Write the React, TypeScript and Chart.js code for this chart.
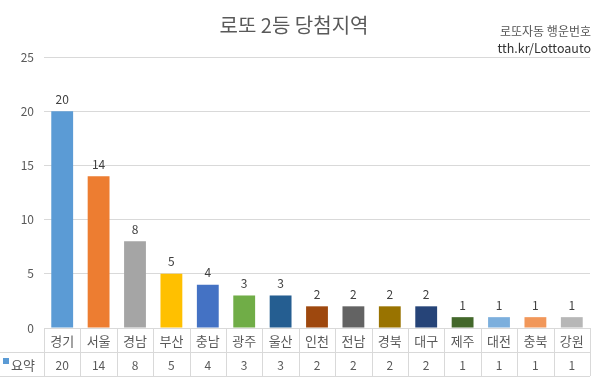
import React, { useEffect, useRef } from "react";
import { Chart, registerables } from "chart.js";

Chart.register(...registerables);

const categories = ["경기", "서울", "경남", "부산", "충남", "광주", "울산", "인천", "전남", "경북", "대구", "제주", "대전", "충북", "강원"];
const values = [20, 14, 8, 5, 4, 3, 3, 2, 2, 2, 2, 1, 1, 1, 1];
const barColors = ["#5B9BD5", "#ED7D31", "#A5A5A5", "#FFC000", "#4472C4", "#70AD47", "#255E91", "#9E480E", "#636363", "#997300", "#264478", "#43682B", "#7CAFDD", "#F1975A", "#B7B7B7"];
const seriesName = "요약";
const legendColor = "#5B9BD5";
const titleText = "로또 2등 당첨지역";
const noteLines = ["로또자동 행운번호", "tth.kr/Lottoauto"];
const yMin = 0;
const yMax = 25;
const yStep = 5;

const FONT = '"Noto Sans CJK KR", "Noto Sans", sans-serif';

const extrasPlugin = {
  id: "extras",
  afterDraw(chart: any) {
    const { ctx, chartArea, scales } = chart;
    const xs = scales.x;
    const ys = scales.y;
    const n = categories.length;
    const top = chartArea.bottom;
    const rowH = 24;
    const right = chartArea.right;
    ctx.save();

    // title
    ctx.fillStyle = "#595959";
    ctx.font = `20px ${FONT}`;
    ctx.textAlign = "center";
    ctx.textBaseline = "middle";
    ctx.fillText(titleText, 294, 25);

    // note
    ctx.textAlign = "right";
    ctx.fillStyle = "#555555";
    ctx.font = `12px ${FONT}`;
    ctx.fillText(noteLines[0], 591, 31);
    ctx.fillStyle = "#333333";
    ctx.font = `12.5px ${FONT}`;
    ctx.fillText(noteLines[1], 591, 48);

    // data labels
    ctx.fillStyle = "#404040";
    ctx.font = `12px ${FONT}`;
    ctx.textAlign = "center";
    ctx.textBaseline = "middle";
    values.forEach((v, i) => {
      ctx.fillText(String(v), xs.getPixelForValue(i), ys.getPixelForValue(v) - 12);
    });

    // table lines
    ctx.strokeStyle = "#D9D9D9";
    ctx.lineWidth = 1;
    ctx.beginPath();
    ctx.moveTo(chartArea.left, top + 0.5);
    ctx.lineTo(right, top + 0.5);
    ctx.moveTo(0, top + rowH + 0.5);
    ctx.lineTo(right, top + rowH + 0.5);
    ctx.moveTo(0, top + 2 * rowH + 0.5);
    ctx.lineTo(right, top + 2 * rowH + 0.5);
    const bounds: number[] = [chartArea.left];
    for (let i = 1; i < n; i++) {
      bounds.push((xs.getPixelForValue(i - 1) + xs.getPixelForValue(i)) / 2);
    }
    bounds.push(right);
    bounds.forEach((b) => {
      const bx = Math.round(b) + 0.5;
      ctx.moveTo(bx, top);
      ctx.lineTo(bx, top + 2 * rowH);
    });
    ctx.stroke();

    // category labels and values
    ctx.textBaseline = "middle";
    ctx.textAlign = "center";
    categories.forEach((c, i) => {
      const cx = xs.getPixelForValue(i);
      ctx.fillStyle = "#595959";
      ctx.font = `13px ${FONT}`;
      ctx.fillText(c, cx, top + rowH / 2 + 1);
      ctx.font = `12px ${FONT}`;
      ctx.fillText(String(values[i]), cx, top + rowH * 1.5 + 1);
    });

    // legend key
    ctx.fillStyle = legendColor;
    ctx.fillRect(3, top + rowH + 6, 6, 6);
    ctx.fillStyle = "#595959";
    ctx.font = `13px ${FONT}`;
    ctx.textAlign = "left";
    ctx.fillText(seriesName, 11, top + rowH * 1.5 + 1);

    ctx.restore();
  },
};

export default function App() {
  const ref = useRef<HTMLCanvasElement>(null);
  useEffect(() => {
    document.body.style.margin = "0";
    const canvas = ref.current;
    if (!canvas) return;
    const chart = new Chart(canvas, {
      type: "bar",
      data: {
        labels: categories,
        datasets: [
          {
            label: seriesName,
            data: values,
            backgroundColor: barColors,
            barPercentage: 0.6,
            categoryPercentage: 1,
          },
        ],
      },
      options: {
        responsive: false,
        animation: false,
        layout: { padding: { top: 57, bottom: 46, right: 10, left: 0 } },
        plugins: {
          legend: { display: false },
          title: { display: false },
          tooltip: { enabled: false },
        },
        scales: {
          x: {
            ticks: { display: false },
            grid: { display: false },
            border: { display: false },
          },
          y: {
            min: yMin,
            max: yMax,
            ticks: {
              stepSize: yStep,
              color: "#595959",
              font: { size: 12, family: FONT },
              padding: 10,
            },
            grid: { color: "#D9D9D9", drawTicks: false },
            border: { display: false },
            afterFit: (s: any) => {
              s.width = 44;
            },
          },
        },
      },
      plugins: [extrasPlugin],
    });
    return () => chart.destroy();
  }, []);
  return (
    <div style={{ width: 600, height: 382, background: "#fff" }}>
      <canvas ref={ref} width={600} height={382} />
    </div>
  );
}
